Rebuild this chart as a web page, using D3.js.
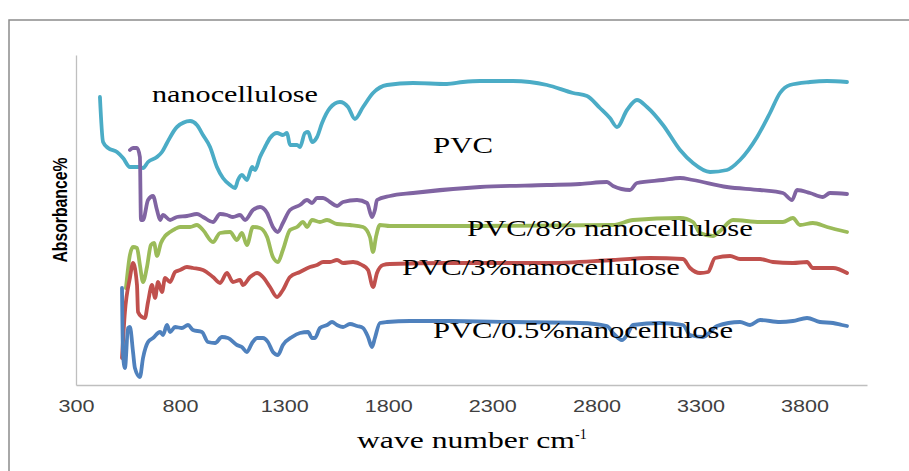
<!DOCTYPE html>
<html>
<head>
<meta charset="utf-8">
<script src="https://cdn.jsdelivr.net/npm/d3@7"></script>
<style>
body { margin:0; background:#fff; }
svg { display:block; }
.lbl { font-family:"Liberation Serif", "Times New Roman", serif; font-size:23px; fill:#000; }
.tick text { font-family:"Liberation Sans", Arial, sans-serif; font-size:16px; fill:#404040; }
</style>
</head>
<body>
<div id="chart"></div>
<script>
// wavenumber (cm-1), absorbance
var nanocellulose = [[415,2.88],[430,2.43],[454,2.37],[497,2.33],[526,2.27],[559,2.18],[607,2.18],[622,2.17],[646,2.23],[689,2.28],[713,2.33],[737,2.42],[785,2.58],[848,2.64],[881,2.60],[910,2.50],[944,2.38],[977,2.18],[1006,2.07],[1040,2.00],[1064,1.97],[1078,2.05],[1097,2.10],[1121,2.05],[1146,2.18],[1160,2.15],[1184,2.28],[1208,2.38],[1232,2.47],[1266,2.52],[1294,2.50],[1314,2.52],[1328,2.40],[1362,2.40],[1376,2.38],[1400,2.52],[1415,2.53],[1434,2.43],[1458,2.48],[1482,2.62],[1520,2.77],[1568,2.83],[1607,2.78],[1640,2.66],[1679,2.78],[1727,2.92],[1794,3.00],[1919,3.02],[2082,3.01],[2159,3.03],[2241,3.04],[2399,3.04],[2563,3.00],[2688,2.92],[2755,2.89],[2817,2.77],[2865,2.67],[2899,2.58],[2947,2.75],[2995,2.85],[3043,2.78],[3120,2.60],[3202,2.35],[3264,2.22],[3346,2.13],[3427,2.15],[3490,2.25],[3572,2.48],[3634,2.72],[3682,2.92],[3730,3.00],[3826,3.03],[3908,3.04],[4004,3.03]];

var pvc = [[559,2.35],[574,2.37],[593,2.37],[607,2.28],[612,1.65],[622,1.65],[646,1.85],[670,1.89],[689,1.75],[704,1.65],[718,1.70],[752,1.65],[785,1.68],[833,1.69],[881,1.71],[910,1.68],[958,1.63],[992,1.71],[1025,1.70],[1054,1.68],[1088,1.70],[1112,1.65],[1150,1.75],[1184,1.78],[1218,1.72],[1246,1.58],[1270,1.53],[1294,1.62],[1328,1.75],[1376,1.80],[1410,1.85],[1434,1.82],[1458,1.87],[1487,1.87],[1520,1.83],[1554,1.79],[1583,1.83],[1650,1.85],[1698,1.82],[1722,1.68],[1736,1.75],[1746,1.85],[1808,1.89],[1919,1.92],[2241,1.98],[2563,2.00],[2721,2.01],[2851,2.03],[2880,1.99],[2961,1.95],[2995,2.02],[3120,2.05],[3202,2.07],[3264,2.05],[3427,1.98],[3586,1.95],[3696,1.92],[3740,1.85],[3764,1.95],[3826,1.92],[3888,1.88],[3922,1.92],[4004,1.91]];

var pvc8 = [[540,0.97],[559,1.30],[574,1.38],[593,1.37],[607,1.20],[622,1.03],[641,1.18],[660,1.40],[675,1.42],[689,1.29],[708,1.42],[728,1.49],[752,1.53],[776,1.56],[800,1.58],[848,1.58],[881,1.60],[910,1.55],[958,1.43],[992,1.52],[1040,1.53],[1073,1.45],[1097,1.52],[1121,1.40],[1150,1.58],[1184,1.57],[1218,1.48],[1246,1.28],[1270,1.23],[1294,1.35],[1328,1.55],[1362,1.58],[1391,1.63],[1410,1.58],[1434,1.65],[1472,1.63],[1506,1.65],[1554,1.61],[1616,1.60],[1679,1.58],[1712,1.48],[1727,1.33],[1741,1.48],[1760,1.60],[1808,1.59],[2241,1.59],[2880,1.60],[2976,1.65],[3202,1.67],[3264,1.63],[3298,1.52],[3360,1.49],[3394,1.54],[3456,1.65],[3586,1.63],[3696,1.63],[3744,1.67],[3778,1.60],[3840,1.62],[3908,1.58],[4004,1.53]];

var pvc3 = [[521,0.27],[535,0.73],[559,1.07],[574,1.22],[593,1.00],[598,0.73],[617,0.68],[631,0.67],[646,0.83],[665,1.00],[680,0.87],[694,1.03],[713,0.93],[728,1.07],[752,1.03],[776,1.13],[800,1.15],[833,1.18],[862,1.17],[910,1.15],[958,1.08],[992,1.02],[1025,1.12],[1054,1.03],[1088,1.05],[1102,1.00],[1136,1.08],[1170,1.12],[1198,1.08],[1232,0.98],[1266,0.88],[1294,0.95],[1328,1.08],[1376,1.13],[1424,1.18],[1458,1.20],[1487,1.23],[1520,1.23],[1554,1.25],[1583,1.22],[1631,1.23],[1674,1.20],[1703,1.15],[1727,0.98],[1746,1.12],[1775,1.20],[1808,1.21],[2082,1.22],[2563,1.22],[2880,1.25],[3058,1.27],[3216,1.26],[3250,1.17],[3298,1.12],[3336,1.13],[3370,1.27],[3442,1.29],[3490,1.26],[3586,1.26],[3648,1.23],[3744,1.22],[3812,1.23],[3840,1.17],[3937,1.17],[4004,1.12]];

var pvc05 = [[521,0.97],[526,0.30],[535,0.17],[550,0.57],[559,0.58],[574,0.33],[583,0.17],[607,0.08],[622,0.27],[646,0.43],[670,0.47],[704,0.53],[718,0.50],[737,0.60],[752,0.53],[776,0.58],[809,0.57],[838,0.60],[862,0.55],[905,0.53],[934,0.43],[968,0.42],[1001,0.48],[1030,0.47],[1073,0.40],[1097,0.38],[1121,0.33],[1146,0.42],[1170,0.47],[1198,0.47],[1222,0.43],[1246,0.33],[1270,0.30],[1294,0.40],[1338,0.48],[1376,0.52],[1415,0.53],[1434,0.47],[1448,0.47],[1472,0.57],[1506,0.60],[1530,0.63],[1554,0.60],[1583,0.58],[1616,0.61],[1650,0.59],[1679,0.57],[1703,0.48],[1722,0.38],[1736,0.47],[1760,0.62],[1794,0.63],[1905,0.64],[2082,0.64],[2399,0.63],[2721,0.62],[2851,0.59],[2880,0.52],[2923,0.45],[2947,0.50],[2976,0.60],[3106,0.62],[3216,0.60],[3250,0.50],[3312,0.48],[3379,0.59],[3490,0.63],[3538,0.60],[3586,0.65],[3682,0.63],[3744,0.64],[3812,0.67],[3874,0.63],[3937,0.62],[3980,0.60],[4004,0.59]];

var xTicks = [300, 800, 1300, 1800, 2300, 2800, 3300, 3800];
var seriesNames = ["nanocellulose", "PVC", "PVC/8% nanocellulose", "PVC/3%nanocellulose", "PVC/0.5%nanocellulose"];

var W = 909, H = 471;
var svg = d3.select("#chart").append("svg").attr("width", W).attr("height", H);

// outer frame (only top and left visible)
svg.append("rect").attr("x", 9).attr("y", 20).attr("width", 1000).attr("height", 1000)
  .attr("fill", "none").attr("stroke", "#8c8c8c").attr("stroke-width", 1.5);

var x = d3.scaleLinear().domain([300, 4100]).range([76, 867]);
var y = d3.scaleLinear().domain([0, 3.3]).range([385, 55]);

var xAxis = d3.axisBottom(x).tickValues(xTicks).tickSize(0).tickPadding(16).tickFormat(d3.format("d"));
var gx = svg.append("g").attr("transform", "translate(0,385)").call(xAxis);
gx.select(".domain").attr("stroke", "#bfbfbf").attr("stroke-width", 1.3);
gx.selectAll(".tick text").attr("textLength", function(d) { return String(d).length * 12; })
  .attr("lengthAdjust", "spacingAndGlyphs");

var gy = svg.append("g").attr("transform", "translate(76,0)").call(d3.axisLeft(y).tickValues([]).tickSizeOuter(0));
gy.select(".domain").attr("stroke", "#bfbfbf").attr("stroke-width", 1.3);

var line = d3.line()
  .x(function(d) { return x(d[0]); })
  .y(function(d) { return y(d[1]); })
  .curve(d3.curveMonotoneX);

var all = [nanocellulose, pvc, pvc8, pvc3, pvc05];
var colors = ["#4bacc6", "#8064a2", "#9bbb59", "#c0504d", "#4f81bd"];
all.forEach(function(s, i) {
  svg.append("path").attr("d", line(s)).attr("fill", "none")
    .attr("stroke", colors[i]).attr("stroke-width", 3.8)
    .attr("stroke-linejoin", "round").attr("stroke-linecap", "round");
});

// text labels placed in data coordinates
var labelPos = [[665, 2.83], [2015, 2.32], [2178, 1.49], [1866, 1.10], [2015, 0.47]];
var labelLen = [166, 60, 286, 278, 300];
seriesNames.forEach(function(n, i) {
  svg.append("text").attr("class", "lbl")
    .attr("x", x(labelPos[i][0])).attr("y", y(labelPos[i][1]))
    .attr("textLength", labelLen[i]).attr("lengthAdjust", "spacingAndGlyphs")
    .text(n);
});

// axis titles
var xt = svg.append("text").attr("x", 357).attr("y", 448)
  .style("font-family", "'Liberation Serif', 'Times New Roman', serif").style("font-size", "23px");
xt.append("tspan").text("wave number cm").attr("textLength", 218).attr("lengthAdjust", "spacingAndGlyphs");
xt.append("tspan").text("-1").attr("dy", -9).style("font-size", "14px");

svg.append("text")
  .attr("transform", "translate(67,210) rotate(-90)")
  .attr("text-anchor", "middle")
  .style("font-family", "'Liberation Sans', Arial, sans-serif").style("font-size", "21px").style("font-weight", "bold")
  .attr("textLength", 105).attr("lengthAdjust", "spacingAndGlyphs")
  .text("Absorbance%");
</script>
</body>
</html>
